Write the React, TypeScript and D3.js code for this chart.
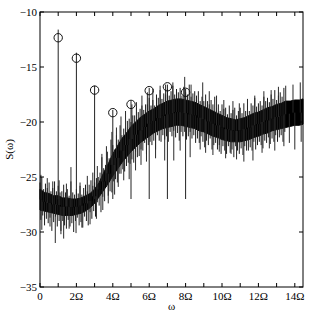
import React from 'react';
import * as d3 from 'd3';

// dense core of the noise band (omega in units of Ω)
const bandOmega = [0, 0.25, 0.5, 0.75, 1, 1.25, 1.5, 1.75, 2, 2.25, 2.5, 2.75, 3, 3.25, 3.5, 3.75, 4, 4.25, 4.5, 4.75, 5, 5.25, 5.5, 5.75, 6, 6.25, 6.5, 6.75, 7, 7.25, 7.5, 7.75, 8, 8.25, 8.5, 8.75, 9, 9.25, 9.5, 9.75, 10, 10.25, 10.5, 10.75, 11, 11.25, 11.5, 11.75, 12, 12.25, 12.5, 12.75, 13, 13.25, 13.5, 13.75, 14, 14.25, 14.45];
const bandTop = [-26.1, -26.4, -26.5, -26.7, -26.7, -26.9, -26.9, -27.0, -27.0, -26.9, -26.7, -26.5, -26.1, -25.5, -24.6, -23.8, -22.9, -22.2, -21.5, -21.0, -20.4, -20.0, -19.6, -19.3, -19.0, -18.8, -18.5, -18.3, -18.1, -18.0, -17.9, -17.9, -18.0, -18.1, -18.2, -18.4, -18.6, -18.8, -19.0, -19.2, -19.4, -19.6, -19.7, -19.8, -19.7, -19.6, -19.4, -19.2, -19.1, -18.9, -18.7, -18.6, -18.4, -18.3, -18.1, -18.1, -18.0, -18.0, -17.9];
const bandBottom = [-28.0, -28.1, -28.2, -28.3, -28.4, -28.5, -28.5, -28.5, -28.4, -28.3, -28.1, -27.8, -27.4, -26.8, -26.2, -25.6, -24.9, -24.3, -23.7, -23.2, -22.7, -22.3, -21.9, -21.6, -21.3, -21.0, -20.8, -20.6, -20.5, -20.4, -20.3, -20.3, -20.4, -20.5, -20.6, -20.8, -20.9, -21.1, -21.3, -21.4, -21.6, -21.7, -21.8, -21.8, -21.8, -21.7, -21.6, -21.4, -21.3, -21.1, -21.0, -20.8, -20.7, -20.6, -20.5, -20.4, -20.3, -20.3, -20.2];

// fuzz of the band edge, one value every 0.1Ω (units beyond the core edge)
const fuzzUp = [0.6, 1.1, 0.3, 0.8, 0.5, 1.0, 0.2, 0.7, 1.3, 0.4, 0.9, 0.3, 0.6, 1.2, 0.5, 0.8, 0.2, 1.6, 0.6, 0.4, 0.9, 0.5, 1.1, 0.3, 0.7, 1.0, 0.4, 0.8, 1.2, 0.3, 0.6, 1.0, 0.5, 0.9, 1.4, 0.4, 0.7, 1.1, 0.5, 1.3, 0.8, 0.4, 1.0, 0.6, 1.2, 0.3, 0.9, 0.5, 1.1, 0.7, 0.4, 1.0, 0.6, 1.3, 0.5, 0.8, 1.1, 0.4, 0.9, 0.6, 1.2, 0.5, 0.8, 0.3, 1.0, 0.7, 1.4, 0.4, 0.9, 0.6, 1.1, 0.5, 0.8, 1.3, 0.4, 0.9, 0.6, 1.0, 0.3, 1.2, 0.7, 0.5, 1.5, 0.4, 0.8, 1.0, 0.6, 1.2, 0.3, 0.9, 0.5, 1.1, 0.7, 0.4, 1.0, 0.6, 1.3, 0.5, 0.8, 0.4, 1.0, 0.6, 0.9, 0.3, 1.2, 0.5, 0.8, 1.1, 0.4, 0.7, 1.0, 0.5, 1.3, 0.6, 0.9, 0.4, 1.1, 0.7, 1.4, 0.5, 0.8, 1.0, 0.4, 1.2, 0.6, 0.9, 0.5, 1.1, 0.7, 1.3, 0.4, 0.8, 1.0, 0.6, 1.2];
const fuzzDown = [0.9, 0.4, 1.3, 0.7, 1.0, 0.5, 1.6, 0.8, 0.3, 1.1, 0.6, 1.4, 0.5, 0.9, 1.2, 0.4, 1.0, 0.7, 1.5, 0.6, 0.3, 1.1, 0.8, 1.3, 0.5, 0.9, 1.6, 0.4, 1.0, 0.7, 1.2, 0.5, 0.8, 1.4, 0.6, 1.0, 0.3, 1.1, 0.7, 1.5, 0.5, 0.9, 1.2, 0.4, 1.0, 0.6, 1.3, 0.8, 0.5, 1.1, 0.7, 1.4, 0.4, 0.9, 1.2, 0.6, 1.0, 0.3, 1.3, 0.8, 0.5, 1.1, 0.7, 1.5, 0.4, 0.9, 1.2, 0.6, 1.0, 0.8, 1.3, 0.5, 0.9, 0.4, 1.1, 0.7, 1.4, 0.6, 1.0, 0.5, 1.2, 0.8, 0.4, 1.0, 0.6, 1.3, 0.7, 1.1, 0.5, 0.9, 1.4, 0.6, 1.0, 0.4, 1.2, 0.8, 0.5, 1.1, 0.7, 1.3, 0.6, 0.9, 1.2, 0.5, 1.0, 0.7, 1.4, 0.4, 0.8, 1.1, 0.6, 1.3, 0.5, 0.9, 1.0, 0.7, 1.2, 0.4, 1.1, 0.8, 0.5, 1.0, 1.3, 0.6, 0.9, 0.4, 1.2, 0.7, 1.0, 0.5, 1.1, 0.8, 0.6, 1.2, 0.4];

// isolated long spikes sticking out of the band: [omega, value]
const spikesUp: [number, number][] = [[0.05, -24.8], [0.4, -25.1], [0.7, -25.4], [1.05, -25.3], [1.45, -25.6], [1.7, -24.1], [2.2, -25.5], [2.6, -24.9], [2.9, -24.6], [3.15, -24.0], [3.4, -22.9], [3.65, -22.2], [3.95, -20.9], [4.2, -20.5], [4.45, -19.5], [4.7, -19.0], [5.05, -18.4], [5.3, -18.2], [5.6, -17.6], [5.9, -17.3], [6.2, -17.0], [6.6, -16.7], [6.9, -16.6], [7.3, -16.4], [7.95, -15.9], [8.3, -16.6], [8.94, -16.4], [9.3, -17.2], [9.7, -17.6], [10.1, -18.0], [10.6, -18.1], [10.95, -18.3], [11.4, -17.9], [11.8, -17.6], [12.3, -17.2], [12.7, -17.1], [13.1, -16.8], [13.5, -16.7], [13.9, -16.6], [14.3, -16.4]];
const spikesDown: [number, number][] = [[0.1, -29.8], [0.55, -29.5], [0.84, -31.0], [1.15, -30.2], [1.3, -30.6], [1.6, -29.7], [1.98, -30.1], [2.3, -29.6], [2.75, -29.3], [3.1, -28.8], [3.45, -28.0], [3.75, -27.4], [4.1, -26.6], [4.3, -25.9], [4.6, -25.3], [4.9, -25.2], [5.25, -24.4], [5.55, -23.9], [5.85, -23.6], [6.35, -23.3], [6.85, -23.5], [7.35, -23.5], [7.7, -22.6], [8.25, -23.2], [8.8, -22.5], [9.1, -22.8], [9.5, -23.0], [9.85, -22.7], [10.2, -23.3], [10.5, -22.9], [10.8, -23.4], [11.2, -23.6], [11.7, -23.5], [12.2, -22.8], [12.6, -22.4], [12.9, -22.6], [13.4, -22.2], [13.7, -21.9], [14.0, -22.5], [14.35, -21.8]];

// harmonic peaks at n*Ω
const peakOmega = [1, 2, 3, 4, 5, 6, 7, 8];
const peakValue = [-12.34, -14.2, -17.1, -19.15, -18.4, -17.15, -16.8, -17.3];
const stemTop = [-11.6, -13.7, -16.7, -18.9, -18.1, -16.9, -16.6, -17.0];
const stemBase = -27;

const xTicks = d3.range(0, 15);
const xLabels = ['0', '2Ω', '4Ω', '6Ω', '8Ω', '10Ω', '12Ω', '14Ω'];
const yTicks = [-10, -15, -20, -25, -30, -35];

const W = 313, H = 314;
const margin = { top: 12, right: 10, bottom: 27, left: 40 };
const font = '"Liberation Serif", "Times New Roman", serif';

export default function App() {
  const x = d3.scaleLinear().domain([0, 14.45]).range([margin.left, W - margin.right]);
  const y = d3.scaleLinear().domain([-35, -10]).range([H - margin.bottom, margin.top]);

  const area = d3.area<number>()
    .x((_, i) => x(bandOmega[i]))
    .y0((_, i) => y(bandBottom[i]))
    .y1((_, i) => y(bandTop[i]));

  const idx = (w: number) => Math.min(bandOmega.length - 1, Math.round(w / 0.25));
  const mid = (w: number) => (bandTop[idx(w)] + bandBottom[idx(w)]) / 2;

  const x0 = x(0), x1 = x(14.45), yb = y(-35), yt = y(-10);

  return (
    <svg width={W} height={H} style={{ position: 'absolute', left: 0, top: 0, background: '#fff' }}>
      {/* noise band */}
      <path d={area(bandOmega) || ''} fill="#000" stroke="#000" strokeWidth={1} />
      {fuzzUp.map((f, i) => {
        const w = i * 0.1;
        return <line key={'fu' + i} x1={x(w)} x2={x(w)} y1={y(mid(w))} y2={y(bandTop[idx(w)] + f)} stroke="#1c1c1c" strokeWidth={1} />;
      })}
      {fuzzDown.map((f, i) => {
        const w = i * 0.1 + 0.05;
        return <line key={'fd' + i} x1={x(w)} x2={x(w)} y1={y(mid(w))} y2={y(bandBottom[idx(w)] - f)} stroke="#1c1c1c" strokeWidth={1} />;
      })}
      {spikesUp.concat(spikesDown).map(([w, v], i) => (
        <line key={'s' + i} x1={x(w)} x2={x(w)} y1={y(mid(w))} y2={y(v)} stroke="#2a2a2a" strokeWidth={1} />
      ))}
      {/* harmonic stems */}
      {peakOmega.map((w, i) => (
        <g key={'p' + i}>
          <line x1={x(w)} x2={x(w)} y1={y(stemBase)} y2={y(stemTop[i])} stroke="#222" strokeWidth={1} />
          <circle cx={x(w)} cy={y(peakValue[i])} r={4.2} fill="none" stroke="#111" strokeWidth={1} />
        </g>
      ))}
      {/* frame */}
      <rect x={x0} y={yt} width={x1 - x0} height={yb - yt} fill="none" stroke="#000" strokeWidth={1} />
      {xTicks.map(t => (
        <g key={'xt' + t}>
          <line x1={x(t)} x2={x(t)} y1={yb} y2={yb - 4} stroke="#000" />
          <line x1={x(t)} x2={x(t)} y1={yt} y2={yt + 4} stroke="#000" />
        </g>
      ))}
      {xLabels.map((l, i) => (
        <text key={'xl' + i} x={x(i * 2)} y={yb + 13} textAnchor="middle" fontFamily={font} fontSize={11}>{l}</text>
      ))}
      {yTicks.map(t => (
        <g key={'yt' + t}>
          <line x1={x0} x2={x0 + 4} y1={y(t)} y2={y(t)} stroke="#000" />
          <line x1={x1} x2={x1 - 4} y1={y(t)} y2={y(t)} stroke="#000" />
          <text x={x0 - 3} y={y(t)} dy="0.35em" textAnchor="end" fontFamily={font} fontSize={11}>{'\u2212' + Math.abs(t)}</text>
        </g>
      ))}
      <text x={(x0 + x1) / 2} y={yb + 23} textAnchor="middle" fontFamily={font} fontSize={11}>ω</text>
      <text transform={`translate(13,${(yt + yb) / 2}) rotate(-90)`} textAnchor="middle" fontFamily={font} fontSize={11}>S(ω)</text>
    </svg>
  );
}
